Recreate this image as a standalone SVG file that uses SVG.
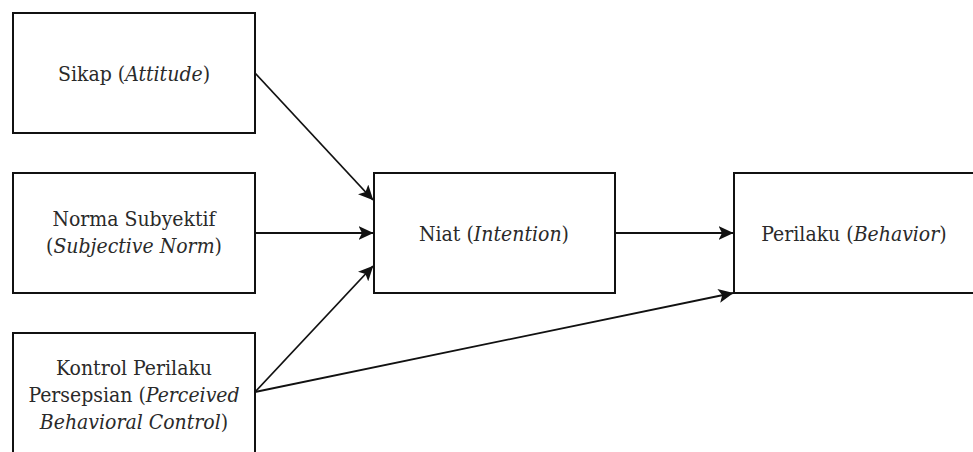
<svg xmlns="http://www.w3.org/2000/svg" width="973" height="452" viewBox="0 0 973 452">
  <style>
    .box { fill: #ffffff; stroke: #111111; stroke-width: 2; }
    .lbl { font-family: "DejaVu Serif Condensed", "DejaVu Serif", serif; font-stretch: condensed; font-size: 21px; fill: #2a2a2a; text-anchor: middle; }
    .it { font-style: italic; }
    .edge { fill: none; stroke: #111111; stroke-width: 1.8; }
  </style>
  <defs>
    <marker id="arrow" viewBox="0 0 15 14" refX="14.5" refY="7" markerWidth="15" markerHeight="14" markerUnits="userSpaceOnUse" orient="auto">
      <path d="M0,0 L15,7 L0,14 L3.5,7 Z" fill="#111111"/>
    </marker>
  </defs>
  <rect width="973" height="452" fill="#ffffff"/>

  <g id="sikap">
    <rect class="box" x="13" y="13" width="242" height="120"/>
    <text class="lbl" x="134" y="81">Sikap (<tspan class="it">Attitude</tspan>)</text>
  </g>

  <g id="norma">
    <rect class="box" x="13" y="173" width="242" height="120"/>
    <text class="lbl" x="134" y="226">Norma Subyektif</text>
    <text class="lbl" x="134" y="253">(<tspan class="it">Subjective Norm</tspan>)</text>
  </g>

  <g id="kontrol">
    <rect class="box" x="13" y="333" width="242" height="122"/>
    <text class="lbl" x="134" y="375">Kontrol Perilaku</text>
    <text class="lbl" x="134" y="402">Persepsian (<tspan class="it">Perceived</tspan></text>
    <text class="lbl" x="134" y="429"><tspan class="it">Behavioral Control</tspan>)</text>
  </g>

  <g id="niat">
    <rect class="box" x="374" y="173" width="241" height="120"/>
    <text class="lbl" x="494" y="241">Niat (<tspan class="it">Intention</tspan>)</text>
  </g>

  <g id="perilaku">
    <rect class="box" x="734" y="173" width="242" height="120"/>
    <text class="lbl" x="854" y="241">Perilaku (<tspan class="it">Behavior</tspan>)</text>
  </g>

  <g id="connectors">
    <line class="edge" x1="255" y1="73" x2="373" y2="200" marker-end="url(#arrow)"/>
    <line class="edge" x1="255" y1="233" x2="373" y2="233" marker-end="url(#arrow)"/>
    <line class="edge" x1="255" y1="392" x2="373" y2="266" marker-end="url(#arrow)"/>
    <line class="edge" x1="255" y1="392" x2="733" y2="293" marker-end="url(#arrow)"/>
    <line class="edge" x1="615" y1="233" x2="733" y2="233" marker-end="url(#arrow)"/>
  </g>
</svg>
